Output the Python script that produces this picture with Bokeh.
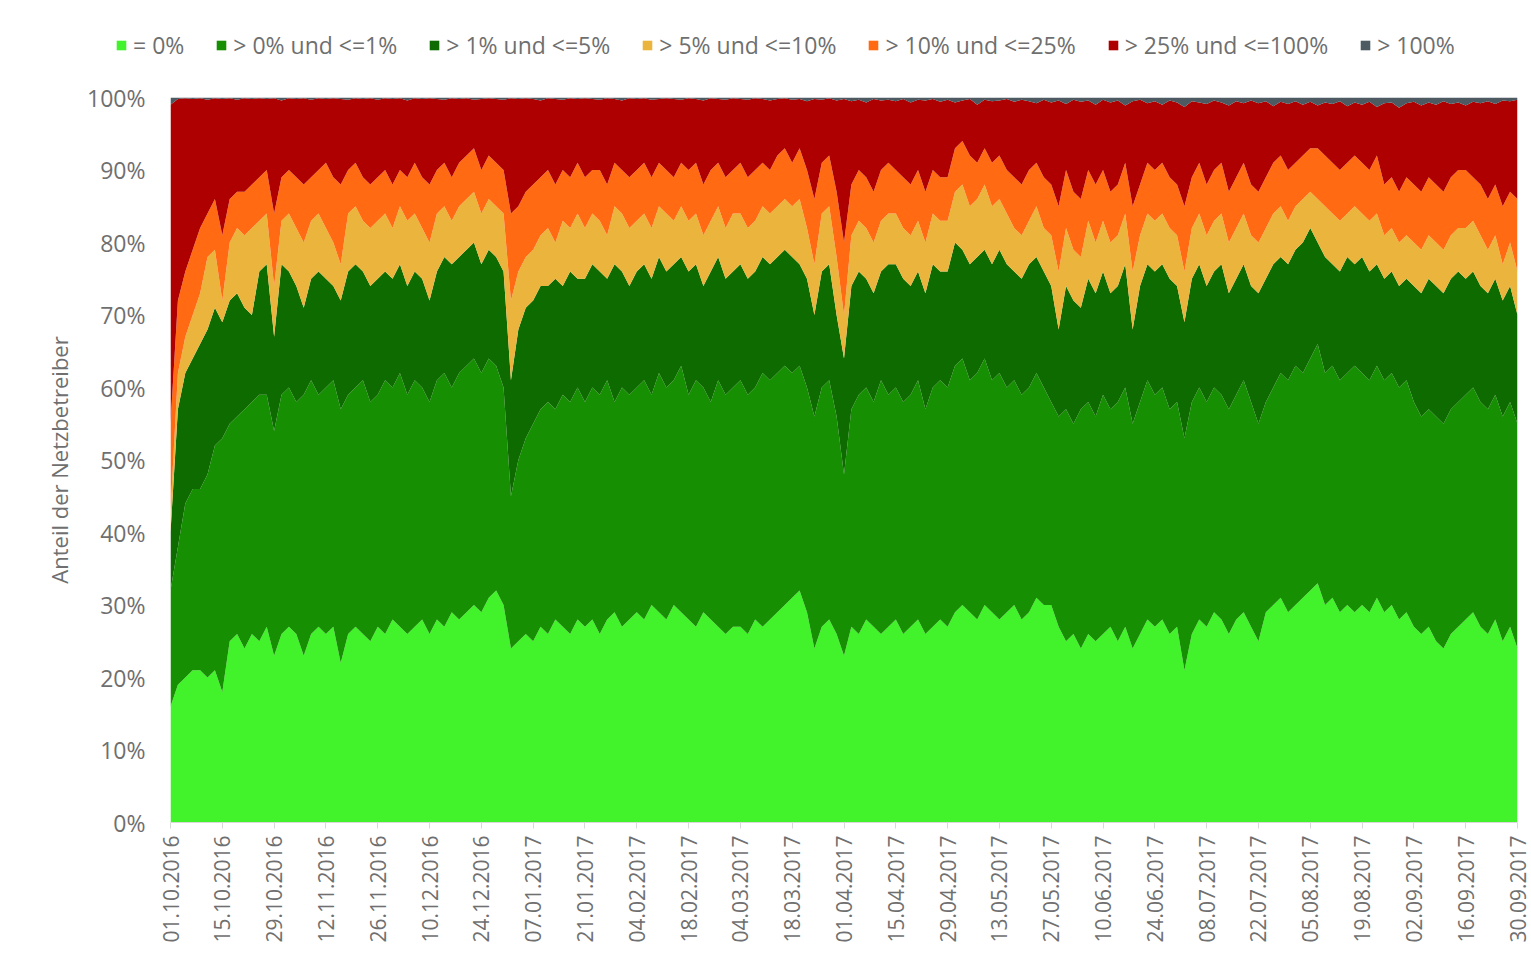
import numpy as np
import pandas as pd
from bokeh.plotting import figure
from bokeh.layouts import column
from bokeh.models import (ColumnDataSource, Range1d, FixedTicker,
                          DatetimeTickFormatter, Legend, LegendItem)
from bokeh.embed import file_html
from bokeh.resources import INLINE

# ---------------- data ----------------
kategorien = ["= 0%", "> 0% und <=1%", "> 1% und <=5%", "> 5% und <=10%",
              "> 10% und <=25%", "> 25% und <=100%", "> 100%"]
farben = ["#42F22B", "#178F03", "#0E6B00", "#EBB43C", "#FF6A12", "#AE0000", "#4E5A62"]

tick_labels = ["01.10.2016", "15.10.2016", "29.10.2016", "12.11.2016", "26.11.2016",
               "10.12.2016", "24.12.2016", "07.01.2017", "21.01.2017", "04.02.2017",
               "18.02.2017", "04.03.2017", "18.03.2017", "01.04.2017", "15.04.2017",
               "29.04.2017", "13.05.2017", "27.05.2017", "10.06.2017", "24.06.2017",
               "08.07.2017", "22.07.2017", "05.08.2017", "19.08.2017", "02.09.2017",
               "16.09.2017", "30.09.2017"]
y_tick_labels = ["0%", "10%", "20%", "30%", "40%", "50%", "60%", "70%", "80%", "90%", "100%"]

# Readings every second day, 01.10.2016 .. 30.09.2017 (cumulative share in %,
# upper edge of each class, read off the picture)
obergrenze_0 = [
    16, 19, 20, 21, 21, 20, 21,
    18, 25, 26, 24, 26, 25, 27,
    23, 26, 27, 26, 23, 26, 27,
    26, 27, 22, 26, 27, 26, 25,
    27, 26, 28, 27, 26, 27, 28,
    26, 28, 27, 29, 28, 29, 30,
    29, 31, 32, 30, 24, 25, 26,
    25, 27, 26, 28, 27, 26, 28,
    27, 28, 26, 28, 29, 27, 28,
    29, 28, 30, 29, 28, 30, 29,
    28, 27, 29, 28, 27, 26, 27,
    27, 26, 28, 27, 28, 29, 30,
    31, 32, 29, 24, 27, 28, 26,
    23, 27, 26, 28, 27, 26, 27,
    28, 26, 27, 28, 26, 27, 28,
    27, 29, 30, 29, 28, 30, 29,
    28, 29, 30, 28, 29, 31, 30,
    30, 27, 25, 26, 24, 26, 25,
    26, 27, 25, 27, 24, 26, 28,
    27, 28, 26, 27, 21, 26, 28,
    27, 29, 28, 26, 28, 29, 27,
    25, 29, 30, 31, 29, 30, 31,
    32, 33, 30, 31, 29, 30, 29,
    30, 29, 31, 29, 30, 28, 29,
    27, 26, 27, 25, 24, 26, 27,
    28, 29, 27, 26, 28, 25, 27, 24]

obergrenze_1 = [
    32, 38, 44, 46, 46, 48, 52,
    53, 55, 56, 57, 58, 59, 59,
    54, 59, 60, 58, 59, 61, 59,
    60, 61, 57, 59, 60, 61, 58,
    59, 61, 60, 62, 59, 61, 60,
    58, 61, 62, 60, 62, 63, 64,
    62, 64, 63, 60, 45, 50, 53,
    55, 57, 58, 57, 59, 58, 60,
    58, 60, 59, 61, 58, 60, 59,
    60, 61, 59, 62, 60, 61, 63,
    59, 61, 60, 58, 61, 59, 60,
    61, 59, 60, 62, 61, 62, 63,
    62, 63, 60, 56, 60, 61, 56,
    48, 57, 59, 60, 58, 61, 59,
    60, 58, 59, 61, 57, 60, 61,
    60, 63, 64, 61, 62, 64, 61,
    62, 60, 61, 59, 60, 62, 60,
    58, 56, 57, 55, 57, 58, 56,
    59, 57, 58, 60, 55, 58, 61,
    59, 60, 57, 58, 53, 58, 60,
    58, 60, 59, 57, 59, 61, 58,
    55, 58, 60, 62, 61, 63, 62,
    64, 66, 62, 63, 61, 62, 63,
    62, 61, 63, 61, 62, 60, 61,
    58, 56, 57, 56, 55, 57, 58,
    59, 60, 58, 57, 59, 56, 58, 55]

obergrenze_2 = [
    40, 57, 62, 64, 66, 68, 71,
    69, 72, 73, 71, 70, 76, 77,
    67, 77, 76, 74, 71, 75, 76,
    75, 74, 72, 76, 77, 76, 74,
    75, 76, 75, 77, 74, 76, 75,
    72, 76, 78, 77, 78, 79, 80,
    77, 79, 78, 76, 61, 68, 71,
    72, 74, 74, 75, 74, 76, 75,
    75, 77, 76, 75, 77, 76, 74,
    76, 77, 75, 78, 76, 77, 78,
    76, 77, 74, 76, 78, 75, 76,
    77, 75, 76, 78, 77, 78, 79,
    78, 77, 75, 70, 76, 77, 70,
    64, 74, 76, 75, 73, 76, 77,
    77, 75, 74, 76, 73, 77, 76,
    76, 80, 79, 77, 78, 79, 77,
    79, 77, 76, 75, 77, 78, 76,
    74, 68, 74, 72, 71, 75, 73,
    76, 73, 74, 77, 68, 74, 77,
    76, 77, 75, 74, 69, 75, 77,
    74, 76, 77, 73, 75, 77, 74,
    73, 75, 77, 78, 77, 79, 80,
    82, 80, 78, 77, 76, 78, 77,
    78, 76, 77, 75, 76, 74, 75,
    74, 73, 75, 74, 73, 75, 76,
    75, 76, 74, 73, 75, 72, 74, 70]

obergrenze_3 = [
    43, 62, 67, 70, 73, 78, 79,
    72, 80, 82, 81, 82, 83, 84,
    74, 83, 84, 82, 80, 83, 84,
    82, 80, 77, 84, 85, 83, 82,
    83, 84, 82, 85, 83, 84, 82,
    80, 84, 85, 83, 85, 86, 87,
    84, 86, 85, 84, 72, 76, 78,
    79, 81, 82, 80, 83, 82, 84,
    82, 84, 83, 81, 85, 84, 82,
    83, 84, 82, 85, 84, 83, 85,
    83, 84, 81, 83, 85, 82, 84,
    84, 82, 83, 85, 84, 85, 86,
    85, 86, 82, 77, 84, 85, 78,
    70, 81, 83, 82, 80, 83, 84,
    84, 82, 81, 83, 80, 84, 83,
    83, 87, 88, 85, 86, 88, 85,
    86, 84, 82, 81, 83, 85, 82,
    81, 76, 82, 79, 78, 83, 80,
    83, 80, 81, 84, 76, 81, 84,
    83, 84, 82, 81, 76, 82, 84,
    81, 83, 84, 80, 82, 84, 81,
    80, 82, 84, 85, 83, 85, 86,
    87, 86, 85, 84, 83, 84, 85,
    84, 83, 84, 81, 82, 80, 81,
    80, 79, 81, 80, 79, 81, 82,
    82, 83, 81, 79, 81, 77, 80, 76]

obergrenze_4 = [
    55, 72, 76, 79, 82, 84, 86,
    81, 86, 87, 87, 88, 89, 90,
    84, 89, 90, 89, 88, 89, 90,
    91, 89, 88, 90, 91, 89, 88,
    89, 90, 88, 90, 89, 91, 89,
    88, 90, 91, 89, 91, 92, 93,
    90, 92, 91, 90, 84, 85, 87,
    88, 89, 90, 88, 90, 89, 91,
    89, 90, 90, 88, 91, 90, 89,
    90, 91, 89, 91, 90, 89, 91,
    90, 91, 88, 90, 91, 89, 90,
    91, 89, 90, 91, 90, 92, 93,
    91, 93, 90, 86, 91, 92, 87,
    80, 88, 90, 89, 87, 90, 91,
    90, 89, 88, 90, 87, 90, 89,
    89, 93, 94, 92, 91, 93, 91,
    92, 90, 89, 88, 90, 91, 89,
    88, 85, 90, 87, 86, 90, 88,
    90, 87, 88, 91, 85, 88, 91,
    90, 91, 89, 88, 85, 89, 91,
    88, 90, 91, 87, 89, 91, 88,
    87, 89, 91, 92, 90, 91, 92,
    93, 93, 92, 91, 90, 91, 92,
    91, 90, 92, 88, 89, 87, 89,
    88, 87, 89, 88, 87, 89, 90,
    90, 89, 88, 86, 88, 85, 87, 86]

obergrenze_5 = [
    99.0, 99.8, 99.9, 99.8, 99.9, 99.7, 99.9,
    99.8, 99.9, 99.7, 99.9, 99.8, 99.9, 99.8,
    99.9, 99.6, 99.9, 99.8, 99.9, 99.7, 99.9,
    99.8, 99.9, 99.8, 99.7, 99.9, 99.8, 99.9,
    99.7, 99.9, 99.8, 99.9, 99.6, 99.9, 99.8,
    99.9, 99.8, 99.7, 99.9, 99.8, 99.9, 99.7,
    99.8, 99.9, 99.8, 99.7, 99.9, 99.8, 99.9,
    99.8, 99.6, 99.9, 99.8, 99.7, 99.9, 99.8,
    99.9, 99.8, 99.7, 99.9, 99.8, 99.6, 99.9,
    99.8, 99.9, 99.7, 99.8, 99.9, 99.8, 99.7,
    99.9, 99.8, 99.6, 99.9, 99.8, 99.7, 99.9,
    99.8, 99.7, 99.9, 99.8, 99.6, 99.8, 99.9,
    99.7, 99.8, 99.5, 99.8, 99.7, 99.9, 99.6,
    99.8, 99.5, 99.7, 99.3, 99.8, 99.6, 99.7,
    99.5, 99.8, 99.3, 99.7, 99.6, 99.8, 99.4,
    99.7, 99.3, 99.6, 99.8, 99.0, 99.7, 99.5,
    99.6, 99.8, 99.4, 99.7, 99.5, 99.2, 99.7,
    99.3, 99.6, 99.1, 99.7, 99.4, 99.6, 99.0,
    99.7, 99.3, 99.6, 98.9, 99.5, 99.7, 99.2,
    99.5, 99.0, 99.6, 99.3, 98.7, 99.5, 99.3,
    99.1, 99.6, 99.3, 98.9, 99.5, 99.2, 99.6,
    99.2, 99.5, 98.8, 99.4, 99.1, 99.5, 99.0,
    99.4, 98.9, 99.3, 99.1, 99.5, 98.8, 99.3,
    99.0, 99.4, 98.7, 99.2, 99.3, 98.6, 99.2,
    99.4, 98.9, 99.3, 99.0, 99.5, 99.1, 99.3,
    98.9, 99.4, 99.2, 99.5, 99.1, 99.6, 99.5, 99.7]

# ---------------- derived ----------------
datum = pd.date_range("2016-10-01", "2017-09-30", freq="2D")
grenzen = [np.zeros(len(datum))] + [np.array(g, dtype=float) for g in
           (obergrenze_0, obergrenze_1, obergrenze_2, obergrenze_3,
            obergrenze_4, obergrenze_5)] + [np.full(len(datum), 100.0)]
keys = [f"k{i}" for i in range(len(kategorien))]
data = {"datum": datum}
for i, k in enumerate(keys):
    data[k] = grenzen[i + 1] - grenzen[i]
source = ColumnDataSource(data)

TEXT = "#6f6f6f"
FONT = "Open Sans"
W = 1531

# ---------------- main chart ----------------
p = figure(width=W, height=874, x_axis_type="datetime",
           output_backend="svg", toolbar_location=None,
           x_range=Range1d(pd.Timestamp("2016-10-01"), pd.Timestamp("2017-09-30")),
           y_range=Range1d(0, 100),
           min_border_left=170, min_border_right=14,
           min_border_top=17, min_border_bottom=132)
p.frame_align = False

rs = p.varea_stack(stackers=keys, x="datum", color=farben, source=source)

tick_dates = pd.to_datetime(tick_labels, format="%d.%m.%Y")
p.xaxis.ticker = FixedTicker(ticks=[t.value / 1e6 for t in tick_dates])
fmt = "%d.%m.%Y"
p.xaxis.formatter = DatetimeTickFormatter(microseconds=fmt, milliseconds=fmt, seconds=fmt,
                                          minsec=fmt, minutes=fmt, hourmin=fmt, hours=fmt,
                                          days=fmt, months=fmt, years=fmt)
p.xaxis.major_label_orientation = np.pi / 2
p.xaxis.major_label_text_font = FONT
p.xaxis.major_label_text_font_size = "21px"
p.xaxis.major_label_text_color = TEXT
p.xaxis.axis_line_color = "#d9d9d9"
p.xaxis.major_tick_line_color = "#d9d9d9"
p.xaxis.major_tick_out = 6
p.xaxis.major_tick_in = 0
p.xaxis.minor_tick_line_color = None
p.xaxis.major_label_standoff = 7

p.yaxis.ticker = FixedTicker(ticks=list(range(0, 101, 10)))
p.yaxis.major_label_overrides = {v: lab for v, lab in zip(range(0, 101, 10), y_tick_labels)}
p.yaxis.major_label_text_font = FONT
p.yaxis.major_label_text_font_size = "23px"
p.yaxis.major_label_text_color = TEXT
p.yaxis.axis_line_color = None
p.yaxis.major_tick_line_color = None
p.yaxis.minor_tick_line_color = None
p.yaxis.major_tick_out = 0
p.yaxis.major_label_standoff = 25
p.yaxis.axis_label = "Anteil der Netzbetreiber"
p.yaxis.axis_label_text_font = FONT
p.yaxis.axis_label_text_font_size = "22px"
p.yaxis.axis_label_text_font_style = "normal"
p.yaxis.axis_label_text_color = TEXT
p.yaxis.axis_label_standoff = 10

p.xgrid.grid_line_color = None
p.ygrid.grid_line_color = None
p.outline_line_color = None

# ---------------- legend strip ----------------
leg = figure(width=W, height=80, output_backend="svg", toolbar_location=None,
             x_axis_location=None, y_axis_location=None, min_border=0,
             x_range=Range1d(0, 1), y_range=Range1d(0, 1))
leg.frame_align = False
leg.grid.grid_line_color = None
leg.outline_line_color = None
# swatch renderers for the legend keys (their area lies outside the visible range)
swatches = [leg.varea(x=[2, 3], y1=[2, 2], y2=[3, 3], color=c) for c in farben]
legend = Legend(items=[LegendItem(label=k, renderers=[r]) for k, r in zip(kategorien, swatches)],
                orientation="horizontal", location=(115, 19),
                padding=0, spacing=31, margin=0,
                glyph_width=12, glyph_height=12, label_standoff=6,
                label_text_font=FONT, label_text_font_size="23px",
                label_text_color=TEXT, border_line_color=None,
                background_fill_alpha=0)
leg.add_layout(legend, "center")

layout = column(leg, p, spacing=0)
open("out.html", "w").write(file_html(layout, INLINE))
